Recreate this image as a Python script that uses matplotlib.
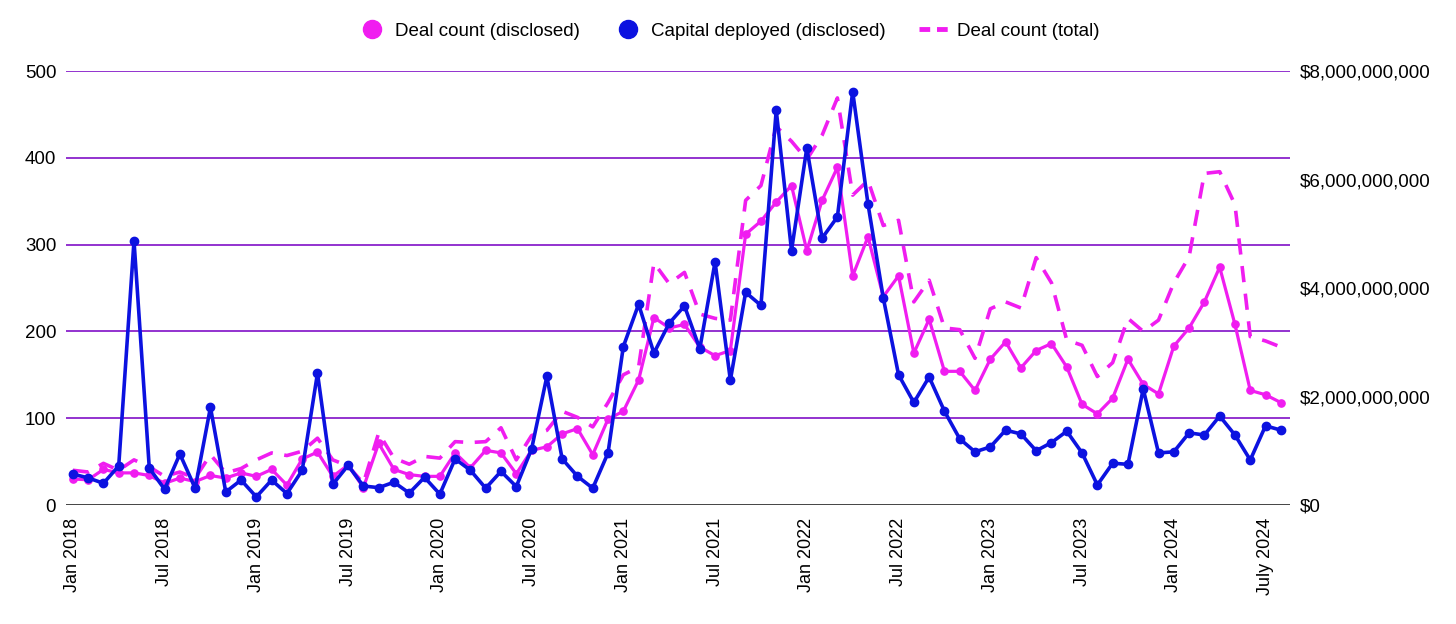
import matplotlib
matplotlib.use("Agg")
import matplotlib.pyplot as plt
from matplotlib.lines import Line2D
import numpy as np

plt.rcParams['font.family'] = ['Liberation Sans', 'DejaVu Sans']

# Monthly, Jan 2018 .. Aug 2024
months = [f"{m} {y}" for y in range(2018, 2025) for m in
          ["Jan", "Feb", "Mar", "Apr", "May", "Jun", "Jul", "Aug", "Sep", "Oct", "Nov", "Dec"]][:80]

deal_count_disclosed = [
    30, 29, 41, 37, 37, 34, 25, 31, 27, 34, 31, 37,
    33, 41, 23, 53, 61, 33, 46, 20, 71, 41, 35, 33,
    33, 60, 43, 63, 60, 36, 63, 67, 82, 88, 58, 99,
    108, 144, 216, 204, 208, 182, 172, 178, 312, 327, 349, 368,
    293, 351, 389, 264, 309, 240, 264, 175, 214, 154, 154, 132,
    168, 188, 158, 178, 186, 159, 116, 105, 123, 168, 139, 128,
    183, 204, 234, 274, 208, 132, 127, 118,
]

deal_count_total = [
    40, 38, 48, 40, 52, 44, 33, 38, 31, 58, 37, 42,
    52, 60, 57, 62, 77, 52, 45, 25, 83, 54, 47, 56,
    54, 73, 72, 73, 89, 52, 80, 86, 108, 101, 90, 118,
    150, 159, 279, 255, 268, 220, 215, 213, 351, 368, 436, 419,
    398, 426, 469, 357, 374, 322, 328, 234, 259, 204, 202, 169,
    226, 234, 227, 285, 256, 190, 184, 148, 164, 215, 200, 213,
    256, 286, 382, 384, 346, 194, 189, 182,
]

# Capital deployed (disclosed), billions of USD
capital_deployed_bn = [
    0.57, 0.50, 0.40, 0.72, 4.87, 0.68, 0.29, 0.94, 0.31, 1.80, 0.24, 0.46,
    0.15, 0.46, 0.21, 0.64, 2.43, 0.38, 0.73, 0.35, 0.32, 0.42, 0.22, 0.51,
    0.20, 0.85, 0.64, 0.31, 0.62, 0.34, 1.03, 2.37, 0.85, 0.53, 0.31, 0.96,
    2.92, 3.70, 2.80, 3.35, 3.67, 2.88, 4.48, 2.30, 3.92, 3.68, 7.28, 4.69,
    6.58, 4.92, 5.31, 7.62, 5.55, 3.82, 2.40, 1.89, 2.36, 1.73, 1.22, 0.98,
    1.07, 1.38, 1.31, 1.00, 1.15, 1.36, 0.96, 0.37, 0.77, 0.75, 2.14, 0.96,
    0.98, 1.33, 1.29, 1.64, 1.29, 0.83, 1.46, 1.38,
]

xtick_idx = list(range(0, 79, 6))
xtick_labels = [months[i] for i in xtick_idx]
xtick_labels[-1] = "July 2024"

left_ticks = [0, 100, 200, 300, 400, 500]
right_ticks_bn = [0, 2, 4, 6, 8]

MAGENTA = '#f01df0'
BLUE = '#0c12e0'
GRID = '#8a22cc'
FS = 13.5

fig = plt.figure(figsize=(14.56, 6.24), dpi=100)
ax = fig.add_axes([0.0453, 0.1907, 0.8407, 0.6955])
ax2 = ax.twinx()

x = np.arange(len(months))

for y in left_ticks[1:]:
    ax.axhline(y, color=GRID, lw=1.3, zorder=0)
ax.axhline(0, color='#333333', lw=2.0, zorder=1)

ax.plot(x, deal_count_total, color=MAGENTA, lw=2.6, ls=(0, (4.5, 3.2)), zorder=2)
ax.plot(x, deal_count_disclosed, color=MAGENTA, lw=2.3, marker='o', ms=5.2, zorder=3)
ax2.plot(x, np.array(capital_deployed_bn) * 1e9, color=BLUE, lw=2.6, marker='o', ms=6, zorder=4)

ax.set_xlim(-0.45, 79.6)
ax.set_ylim(0, 500)
ax2.set_ylim(0, 8e9)

ax.set_yticks(left_ticks)
ax.set_yticklabels([str(t) for t in left_ticks], fontsize=FS)
ax2.set_yticks([t * 1e9 for t in right_ticks_bn])
ax2.set_yticklabels(["$0"] + [f"${t * 1e9:,.0f}" for t in right_ticks_bn[1:]], fontsize=FS)

ax.set_xticks(xtick_idx)
ax.set_xticklabels(xtick_labels, rotation=90, fontsize=13)

for a in (ax, ax2):
    for s in a.spines.values():
        s.set_visible(False)
    a.tick_params(length=0)
ax.tick_params(axis='y', pad=7)
ax2.tick_params(axis='y', pad=7)
ax.tick_params(axis='x', pad=9)

ax2.set_zorder(ax.get_zorder() + 1)
ax2.patch.set_visible(False)

handles = [
    Line2D([], [], color=MAGENTA, marker='o', ls='none', ms=13),
    Line2D([], [], color=BLUE, marker='o', ls='none', ms=13),
    Line2D([], [], color=MAGENTA, lw=3.5, ls=(0, (2.2, 1.4))),
]
labels = ["Deal count (disclosed)", "Capital deployed (disclosed)", "Deal count (total)"]
fig.legend(handles, labels, loc='center', bbox_to_anchor=(0.5, 0.95), ncol=3,
           frameon=False, fontsize=FS, handlelength=1.6, handletextpad=0.45,
           columnspacing=1.75)

fig.savefig("out.png", dpi=100)
